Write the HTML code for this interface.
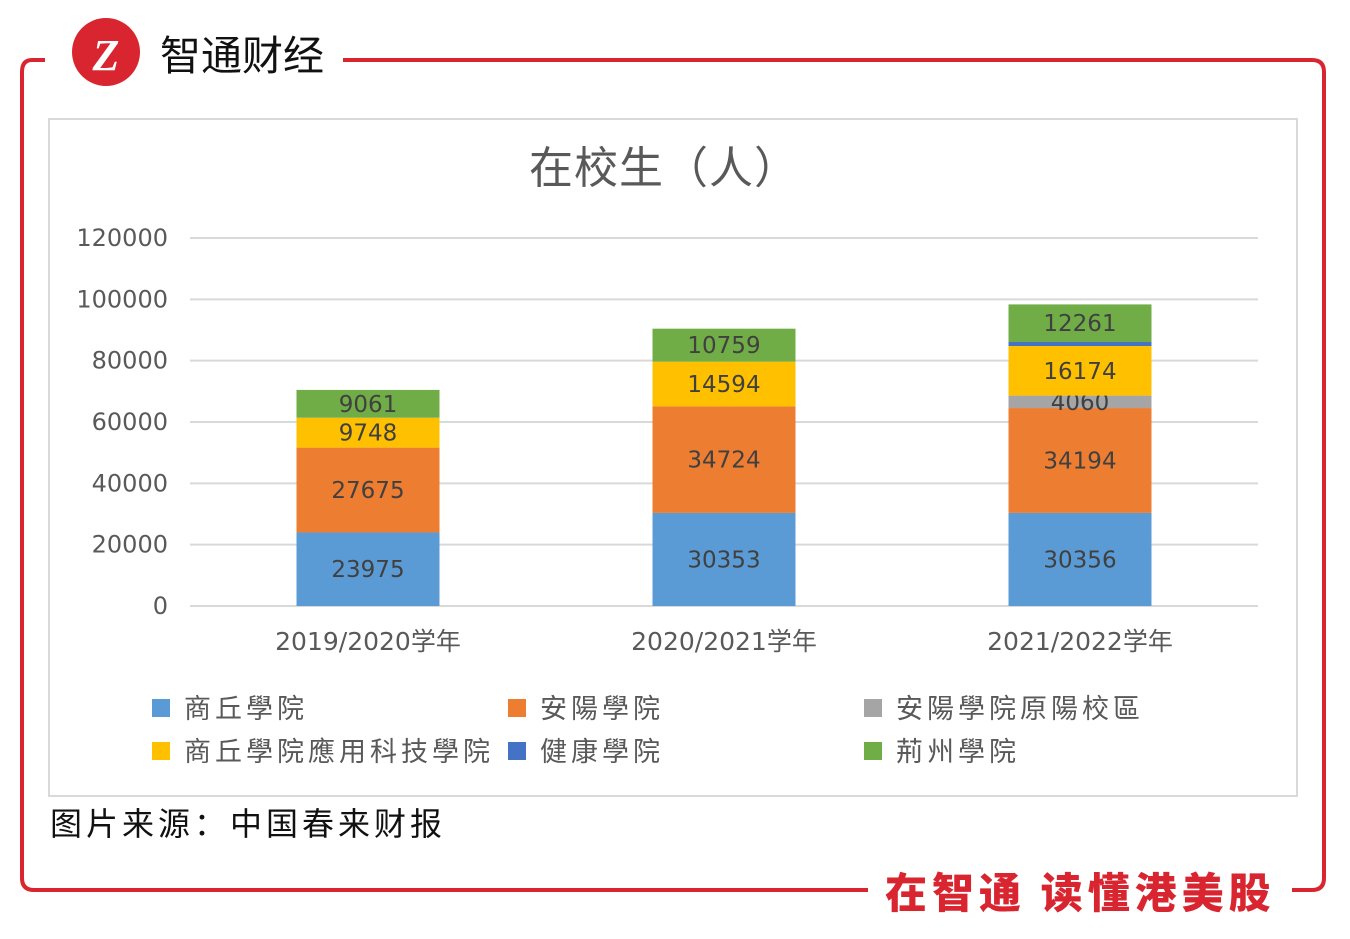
<!DOCTYPE html>
<html><head><meta charset="utf-8"><style>
body{margin:0;background:#fff;width:1350px;height:934px;overflow:hidden;font-family:"Liberation Sans","Noto Sans CJK SC",sans-serif;}
</style></head><body>
<svg width="1350" height="934" xmlns="http://www.w3.org/2000/svg" id="root">
<g fill="none" stroke="#d9252f" stroke-width="4">
<path d="M45 60 H32 Q22 60 22 72 V878 Q22 890 34 890 H868"/>
<path d="M343 60 H1312 Q1324 60 1324 72 V878 Q1324 890 1312 890 H1292"/>
</g>
<g>
<circle cx="106" cy="52" r="34" fill="#d9252f"/>
<text x="106" y="70" font-size="44" font-weight="bold" fill="#fff" text-anchor="middle" font-family="Liberation Serif,serif" font-style="italic">Z</text>
<text x="160" y="70" font-size="41" fill="#111" font-family="Noto Sans CJK SC,sans-serif">智通财经</text>
</g>
<text x="885" y="908" font-size="42" font-weight="900" fill="#d9252f" letter-spacing="5" font-family="Noto Sans CJK SC,sans-serif">在智通  读懂港美股</text>
<rect x="49" y="119" width="1248" height="677" fill="#fff" stroke="#d9d9d9" stroke-width="2"/>
<text x="664" y="183" font-size="44" fill="#595959" text-anchor="middle" letter-spacing="1" font-family="Noto Sans CJK SC,sans-serif">在校生（人）</text>
<g id="grid"></g><g id="bars"></g><g id="xl"></g><g id="legend"></g>
<text x="50" y="835" font-size="32" fill="#111" letter-spacing="4" font-family="Noto Sans CJK SC,sans-serif">图片来源：中国春来财报</text>
</svg>
<script>
const categories=["2019/2020学年","2020/2021学年","2021/2022学年"];
const seriesNames=["商丘學院","安陽學院","安陽學院原陽校區","商丘學院應用科技學院","健康學院","荊州學院"];
const colors=["#5b9bd5","#ed7d31","#a5a5a5","#ffc000","#4472c4","#70ad47"];
const sShangqiu=[23975,30353,30356];
const sAnyang=[27675,34724,34194];
const sYuanyang=[0,0,4060];
const sKeji=[9748,14594,16174];
const sHealth=[0,0,1300];
const sJingzhou=[9061,10759,12261];
const series=[sShangqiu,sAnyang,sYuanyang,sKeji,sHealth,sJingzhou];
const ticks=[0,20000,40000,60000,80000,100000,120000];
const NS="http://www.w3.org/2000/svg";
const DJ='"DejaVu Sans","Noto Sans CJK SC",sans-serif';
const x0=190,x1=1258,yb=606,yt=238,ymax=120000;
const y=v=>yb-(v/ymax)*(yb-yt);
const band=(x1-x0)/categories.length;
const xc=i=>x0+band*(i+0.5);
function mk(t,a,p){const e=document.createElementNS(NS,t);for(const k in a)e.setAttribute(k,a[k]);p.appendChild(e);return e;}
const grid=document.getElementById('grid');
ticks.forEach(t=>{
 const l=mk('line',{x1:x0,x2:x1,y1:y(t),y2:y(t),stroke:'#d9d9d9','stroke-width':2},grid);
 
 
 const tx=mk('text',{x:168,y:y(t)+8,'font-size':24,fill:'#595959','text-anchor':'end','font-family':DJ},grid);
 tx.textContent=t;
 
 
});
const bars=document.getElementById('bars');
const bw=143;
categories.forEach((c,i)=>{
 let acc=0;
 series.forEach((s,j)=>{
  const v=s[i]; if(!v)return;
  const r=mk('rect',{x:xc(i)-bw/2,y:y(acc+v),width:bw,height:y(acc)-y(acc+v),fill:colors[j]},bars);
  
  
  if(v>3000){
   const t=mk('text',{x:xc(i),y:(y(acc)+y(acc+v))/2+8,'font-size':23,fill:'#404040','text-anchor':'middle','font-family':DJ},bars);
   t.textContent=v;
   
   
  }
  acc+=v;
 });
 const xl=mk('text',{x:xc(i),y:650,'font-size':25,fill:'#595959','text-anchor':'middle','font-family':DJ},document.getElementById('xl'));
 xl.textContent=c;
 
 
});
const lg=document.getElementById('legend');
const order=[0,1,2,3,4,5];
order.forEach((j,k)=>{
 const col=k%3,row=Math.floor(k/3);
 const lx=152+col*356,ly=708+row*43;
 const g=mk('g',{},lg);
 
 
 mk('rect',{x:lx,y:ly-9,width:18,height:18,fill:colors[j]},g);
 const t=mk('text',{x:lx+32,y:ly+10,'font-size':27,fill:'#595959','letter-spacing':4,'font-family':'Noto Sans CJK TC,sans-serif'},g);
 t.textContent=seriesNames[j];
});
</script>
</body></html>
